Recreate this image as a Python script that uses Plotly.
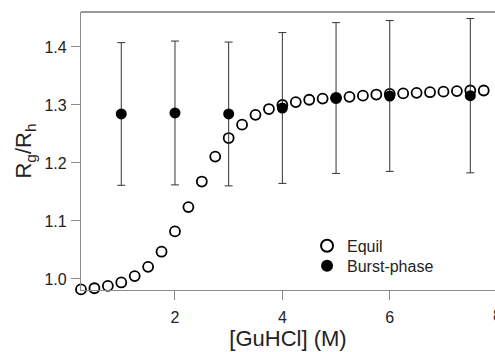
import plotly.graph_objects as go

# Equilibrium data
equil_x = [0.25, 0.5, 0.75, 1.0, 1.25, 1.5, 1.75, 2.0, 2.25, 2.5, 2.75, 3.0, 3.25, 3.5, 3.75,
           4.0, 4.25, 4.5, 4.75, 5.0, 5.25, 5.5, 5.75, 6.0, 6.25, 6.5, 6.75, 7.0, 7.25, 7.5, 7.75, 8.0]
equil_y = [0.982, 0.984, 0.988, 0.994, 1.005, 1.021, 1.047, 1.082, 1.124, 1.168, 1.211, 1.243,
           1.266, 1.283, 1.293, 1.300, 1.305, 1.309, 1.311, 1.312, 1.314, 1.316, 1.318, 1.319,
           1.320, 1.321, 1.322, 1.323, 1.324, 1.325, 1.325, 1.326]

# Burst-phase data
burst_x = [1, 2, 3, 4, 5, 6, 7.5]
burst_y = [1.2845, 1.2862, 1.2845, 1.2948, 1.312, 1.3155, 1.316]
burst_err = [0.123, 0.124, 0.124, 0.130, 0.130, 0.130, 0.133]

x_ticks = [2, 4, 6, 8]
y_ticks = [1.0, 1.1, 1.2, 1.3, 1.4]

FONT = "Liberation Sans, Arial, sans-serif"

fig = go.Figure()
fig.add_trace(go.Scatter(
    x=equil_x, y=equil_y, mode="markers", name="Equil", legend="legend",
    cliponaxis=False,
    marker=dict(symbol="circle-open", size=10, color="black", line=dict(width=1.8, color="black")),
))
fig.add_trace(go.Scatter(
    x=burst_x, y=burst_y, mode="markers", name="Burst-phase", legend="legend2",
    cliponaxis=False,
    marker=dict(symbol="circle", size=11, color="black"),
    error_y=dict(type="data", array=burst_err, visible=True, color="#333333", thickness=1, width=4),
))

axis_font = dict(family=FONT, size=16, color="#222222")
title_font = dict(family=FONT, size=22, color="#222222")
legend_font = dict(family=FONT, size=16, color="#222222")

fig.update_layout(
    width=495, height=352,
    margin=dict(l=81, r=0, t=12, b=62),
    plot_bgcolor="white", paper_bgcolor="white",
    showlegend=True,
    legend=dict(x=0.546, y=0.159, xanchor="left", yanchor="middle",
                font=legend_font, bgcolor="rgba(0,0,0,0)", itemsizing="constant"),
    legend2=dict(x=0.546, y=0.087, xanchor="left", yanchor="middle",
                 font=legend_font, bgcolor="rgba(0,0,0,0)", itemsizing="constant"),
    xaxis=dict(range=[0.25, 7.96], tickvals=x_ticks, showgrid=False, zeroline=False,
               showline=True, linecolor="#8a8a8a", linewidth=1.2,
               ticks="outside", ticklen=9, tickcolor="#8a8a8a", tickwidth=1.2,
               tickfont=axis_font, ticklabelstandoff=4,
               title=dict(text="[GuHCl] (M)", font=title_font, standoff=2)),
    yaxis=dict(range=[0.981, 1.4603], tickvals=y_ticks, tickformat=".1f", showgrid=False, zeroline=False,
               showline=True, linecolor="#8a8a8a", linewidth=1.2,
               ticks="outside", ticklen=9, tickcolor="#8a8a8a", tickwidth=1.2,
               tickfont=axis_font, ticklabelstandoff=1,
               title=dict(text="R<sub>g</sub>/R<sub>h</sub>", font=title_font, standoff=6)),
)

# top frame line
fig.add_shape(type="line", xref="paper", yref="paper", x0=0, x1=1, y0=1, y1=1,
              line=dict(color="#333333", width=1.2))
# partially visible "8" tick label at the right edge
fig.add_annotation(x=(8 - 0.25) / (7.96 - 0.25), y=0, xref="paper", yref="paper",
                   xanchor="center", yanchor="top", yshift=-15,
                   text="8", showarrow=False, font=axis_font)

fig.write_html("out.html")
